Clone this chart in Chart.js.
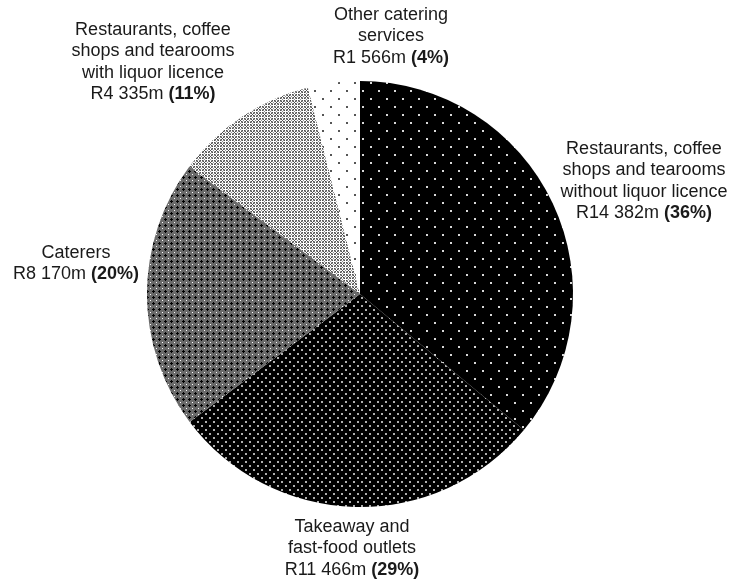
<!DOCTYPE html>
<html>
<head>
<meta charset="utf-8">
<script src="https://cdn.jsdelivr.net/npm/chart.js@4/dist/chart.umd.min.js"></script>
<style>
html,body{margin:0;padding:0;background:#fff;}
#wrap{width:731px;height:584px;position:relative;}
</style>
</head>
<body>
<div id="wrap"><canvas id="c" width="731" height="584"></canvas></div>
<script>
// ---- data ----
const categories = [
  ["Restaurants, coffee", "shops and tearooms", "without liquor licence"],
  ["Takeaway and", "fast-food outlets"],
  ["Caterers"],
  ["Restaurants, coffee", "shops and tearooms", "with liquor licence"],
  ["Other catering", "services"]
];
const valuesRandMillion = [14382, 11466, 8170, 4335, 1566];

// ---- label layout (block centre x, first line y) ----
const labelAnchors = [
  [644, 149],
  [352, 527],
  [76, 253],
  [153, 30],
  [391, 15]
];

function makePattern(w, h, bg, dots) {
  const c = document.createElement('canvas');
  c.width = w; c.height = h;
  const g = c.getContext('2d');
  g.fillStyle = bg; g.fillRect(0, 0, w, h);
  dots.forEach(d => { g.fillStyle = d[4]; g.fillRect(d[0], d[1], d[2], d[3]); });
  return g.createPattern(c, 'repeat');
}

// black with sparse white dots
const pSparseWhite = makePattern(16, 16, '#000', [
  [2, 2, 2, 2, '#d8d8d8'], [10, 10, 2, 2, '#d8d8d8']
]);
// black with dense white dots
const pDenseWhite = makePattern(8, 8, '#000', [
  [1, 1, 2, 2, '#b0b0b0'], [5, 5, 2, 2, '#b0b0b0']
]);
// dark grey: black pluses + white dots on grey
const pCaterers = makePattern(6, 6, '#6a6a6a', [
  [3, 2, 1, 3, '#000'], [2, 3, 3, 1, '#000'],
  [0, 0, 1, 1, '#ffffff']
]);
// light: white diamonds with grey lattice
const pLight = (function(){
  const c = document.createElement('canvas');
  c.width = 6; c.height = 6;
  const g = c.getContext('2d');
  g.fillStyle = '#ffffff'; g.fillRect(0,0,6,6);
  for (let y=0;y<6;y++) for (let x=0;x<6;x++) {
    if ((x+y)%6===0 || ((x-y)+6)%6===0) { g.fillStyle='#505050'; g.fillRect(x,y,1,1); }
    else if ((x+y)%6===3 || ((x-y)+6)%6===3) { g.fillStyle='#909090'; g.fillRect(x,y,1,1); }
  }
  g.fillStyle = '#ffffff'; g.fillRect(3,3,1,1);
  return g.createPattern(c,'repeat');
})();
// white with sparse dark dots
const pSparseDark = makePattern(16, 16, '#fff', [
  [2, 2, 2, 2, '#555'], [10, 10, 2, 2, '#555']
]);

const fills = [pSparseWhite, pDenseWhite, pCaterers, pLight, pSparseDark];

function fmtValue(v) {
  const s = String(v);
  const th = s.length > 3 ? s.slice(0, s.length - 3) + ' ' + s.slice(s.length - 3) : s;
  return 'R' + th + 'm ';
}

const labelPlugin = {
  id: 'sliceLabels',
  afterDraw(chart) {
    const ctx = chart.ctx;
    const data = chart.data.datasets[0].data;
    const total = data.reduce((a, b) => a + b, 0);
    const lh = 21.5;
    ctx.save();
    ctx.fillStyle = '#1a1a1a';
    ctx.textBaseline = 'middle';
    categories.forEach((lines, i) => {
      const [cx, y0] = labelAnchors[i];
      ctx.font = '18px "Liberation Sans", Arial, sans-serif';
      ctx.textAlign = 'center';
      lines.forEach((ln, k) => ctx.fillText(ln, cx, y0 + k * lh));
      const y = y0 + lines.length * lh;
      const a = fmtValue(data[i]);
      const b = '(' + Math.round(data[i] / total * 100) + '%)';
      ctx.font = '18px "Liberation Sans", Arial, sans-serif';
      const wa = ctx.measureText(a).width;
      ctx.font = 'bold 18px "Liberation Sans", Arial, sans-serif';
      const wb = ctx.measureText(b).width;
      const x0 = cx - (wa + wb) / 2;
      ctx.textAlign = 'left';
      ctx.font = '18px "Liberation Sans", Arial, sans-serif';
      ctx.fillText(a, x0, y);
      ctx.font = 'bold 18px "Liberation Sans", Arial, sans-serif';
      ctx.fillText(b, x0 + wa, y);
    });
    ctx.restore();
  }
};

new Chart(document.getElementById('c'), {
  type: 'pie',
  data: {
    labels: categories.map(l => l.join(' ')),
    datasets: [{
      data: valuesRandMillion,
      backgroundColor: fills,
      borderWidth: 0
    }]
  },
  options: {
    responsive: false,
    animation: false,
    layout: { padding: { left: 147, right: 158, top: 81, bottom: 77 } },
    plugins: { legend: { display: false }, tooltip: { enabled: false } }
  },
  plugins: [labelPlugin]
});
</script>
</body>
</html>
